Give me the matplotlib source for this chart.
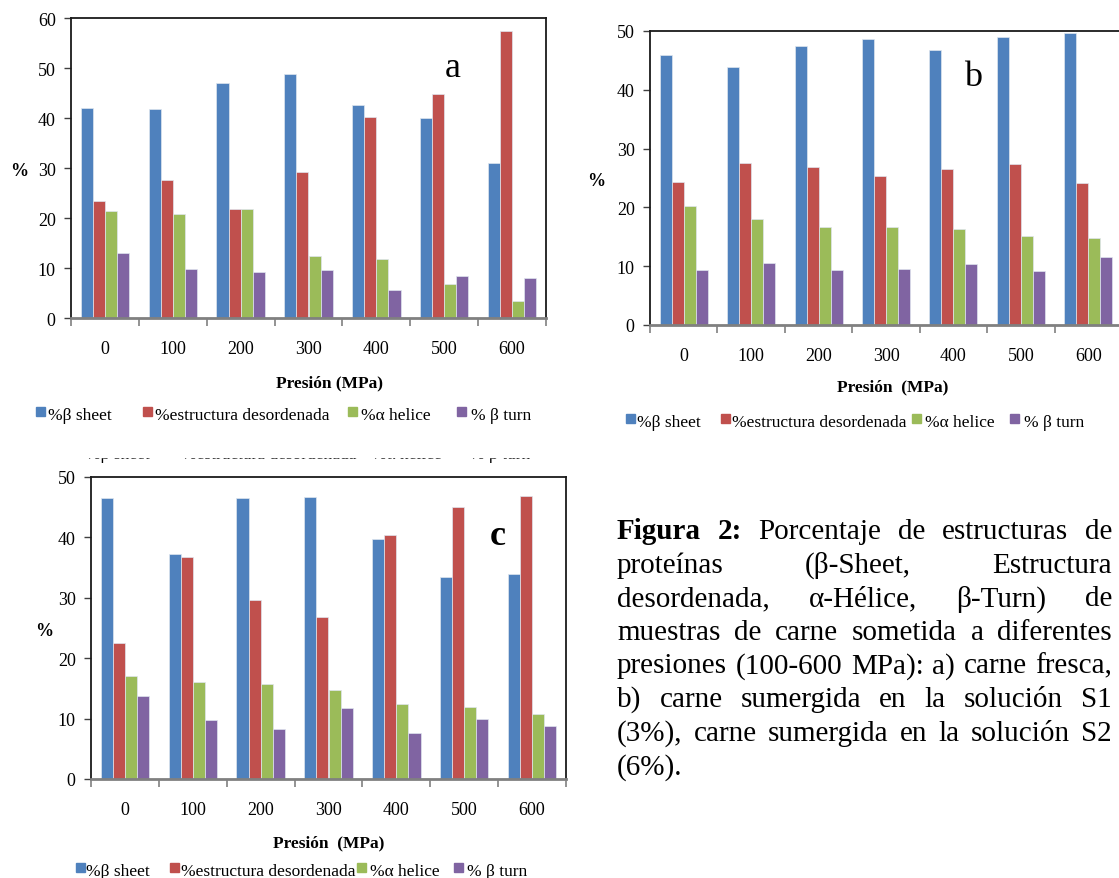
import numpy as np
import matplotlib
matplotlib.use("Agg")
import matplotlib.pyplot as plt
from matplotlib.patches import Rectangle

# figure size in pixels
W, H = 1119, 879

plt.rcParams['font.family'] = ['Liberation Serif', 'DejaVu Serif']

# categories and series
pressures = ['0', '100', '200', '300', '400', '500', '600']
series_names = ['%β sheet', '%estructura desordenada', '%α helice', '% β turn']
colors = ['#4F81BD', '#C0504D', '#9BBB59', '#8064A2']

# a) carne fresca
a_sheet = [42.1, 41.8, 47.0, 48.8, 42.7, 40.0, 31.1]
a_deso = [23.4, 27.7, 21.9, 29.2, 40.3, 44.9, 57.4]
a_alpha = [21.5, 20.9, 21.9, 12.4, 11.8, 6.9, 3.5]
a_turn = [13.0, 9.9, 9.3, 9.6, 5.7, 8.4, 8.1]

# b) solucion S1
b_sheet = [45.9, 43.9, 47.4, 48.6, 46.7, 48.9, 49.7]
b_deso = [24.3, 27.5, 26.8, 25.3, 26.6, 27.3, 24.1]
b_alpha = [20.3, 18.1, 16.6, 16.6, 16.4, 15.1, 14.8]
b_turn = [9.4, 10.6, 9.4, 9.6, 10.4, 9.1, 11.6]

# c) solucion S2
c_sheet = [46.5, 37.3, 46.5, 46.7, 39.7, 33.4, 33.9]
c_deso = [22.5, 36.8, 29.6, 26.9, 40.4, 45.0, 46.9]
c_alpha = [17.0, 16.0, 15.8, 14.8, 12.4, 11.9, 10.7]
c_turn = [13.8, 9.7, 8.3, 11.7, 7.6, 10.0, 8.8]

caption_lines = [
    [('Figura', 'bold'), ('2:', 'bold'), ('Porcentaje', 'normal'), ('de', 'normal'),
     ('estructuras', 'normal'), ('de', 'normal')],
    'proteínas (β-Sheet, Estructura',
    'desordenada, α-Hélice, β-Turn) de',
    'muestras de carne sometida a diferentes',
    'presiones (100-600 MPa): a) carne fresca,',
    'b) carne sumergida en la solución S1',
    '(3%), carne sumergida en la solución S2',
    '(6%).',
]

fig = plt.figure(figsize=(W / 100, H / 100), dpi=100)


def fx(x):
    return x / W


def fy(y):
    return 1 - y / H


def legend_row(xs_box, xs_text, base):
    for i, (name, c, xt) in enumerate(zip(series_names, colors, xs_text)):
        if xs_box is not None:
            fig.patches.append(Rectangle((fx(xs_box[i]), fy(base - 3)), 9 / W, 9 / H,
                                         transform=fig.transFigure, color=c))
        fig.text(fx(xt), fy(base), name, fontsize=12.5, va='baseline')


def panel(box, data, ymax, letter, letter_pos, letter_weight, pct_pos,
          xlab, xlab_pos, leg_box, leg_text, leg_base):
    left, top, right, bottom = box
    ax = fig.add_axes([fx(left), fy(bottom), (right - left) / W, (bottom - top) / H])
    x = np.arange(len(pressures))
    w = 0.178
    for k, (vals, c) in enumerate(zip(data, colors)):
        ax.bar(x + (k - 1.5) * w, vals, w, color=c, edgecolor='#dfe6ef',
               linewidth=0.5, zorder=2)
    ax.set_xlim(-0.5, 6.5)
    ax.set_ylim(0, ymax)
    ax.set_yticks(np.arange(0, ymax + 1, 10))
    ax.set_xticks(x)
    ax.set_xticklabels(pressures)
    ax.set_xticks(np.arange(-0.5, 7, 1), minor=True)
    ax.tick_params(axis='x', which='major', length=0, pad=15.5, labelsize=13)
    ax.tick_params(axis='x', which='minor', length=6, width=1.2, color='#808080')
    ax.tick_params(axis='y', length=5, width=1, pad=6, labelsize=13, color='#404040')
    for s in ['top', 'right', 'left']:
        ax.spines[s].set_color('#1a1a1a')
        ax.spines[s].set_linewidth(1.3)
    ax.spines['bottom'].set_color('#808080')
    ax.spines['bottom'].set_linewidth(2)

    fig.text(fx(pct_pos[0]), fy(pct_pos[1]), '%', fontsize=13, fontweight='bold',
             ha='center', va='center')
    fig.text(fx(xlab_pos[0]), fy(xlab_pos[1]), xlab, fontsize=12.5, fontweight='bold',
             ha='center', va='center')
    fig.text(fx(letter_pos[0]), fy(letter_pos[1]), letter, fontsize=26,
             fontweight=letter_weight, ha='center', va='baseline')
    legend_row(leg_box, leg_text, leg_base)
    return ax


panel((71, 19, 546, 319), [a_sheet, a_deso, a_alpha, a_turn], 60,
      'a', (453, 77), 'normal', (19, 172),
      'Presión (MPa)', (329, 383),
      [36, 143, 348, 457], [48, 155, 361, 471], 420)

panel((650, 32, 1122, 326), [b_sheet, b_deso, b_alpha, b_turn], 50,
      'b', (973, 86), 'normal', (596, 182),
      'Presión  (MPa)', (893, 387),
      [626, 721, 912, 1010], [637, 732, 925, 1024], 427)

panel((91, 478, 566, 780), [c_sheet, c_deso, c_alpha, c_turn], 50,
      'c', (498, 545), 'bold', (44, 632),
      'Presión  (MPa)', (329, 843),
      [76, 170, 357, 454], [86, 181, 370, 467], 876)

# cut-off legend of a chart above panel c: only its lowest pixels show
legend_row(None, [86, 182, 372, 470], 459)
fig.patches.append(Rectangle((fx(60), fy(457.5)), 500 / W, 25 / H,
                             transform=fig.transFigure, color='white', zorder=10))

# caption, justified
renderer = fig.canvas.get_renderer()
cap_left, cap_right = 617, 1112
base0, step = 539, 33.6
for i, line in enumerate(caption_lines):
    if isinstance(line, str):
        words = [(wd, 'normal') for wd in line.split()]
    else:
        words = line
    base = base0 + i * step
    texts = [fig.text(0, fy(base), wd, fontsize=21, fontweight=wt, va='baseline')
             for wd, wt in words]
    widths = [t.get_window_extent(renderer=renderer).width for t in texts]
    if i == len(caption_lines) - 1 or len(texts) == 1:
        gap = 7
    else:
        gap = (cap_right - cap_left - sum(widths)) / (len(texts) - 1)
    xpos = cap_left
    for t, wd in zip(texts, widths):
        t.set_x(fx(xpos))
        xpos += wd + gap

fig.savefig('out.png', dpi=100)
